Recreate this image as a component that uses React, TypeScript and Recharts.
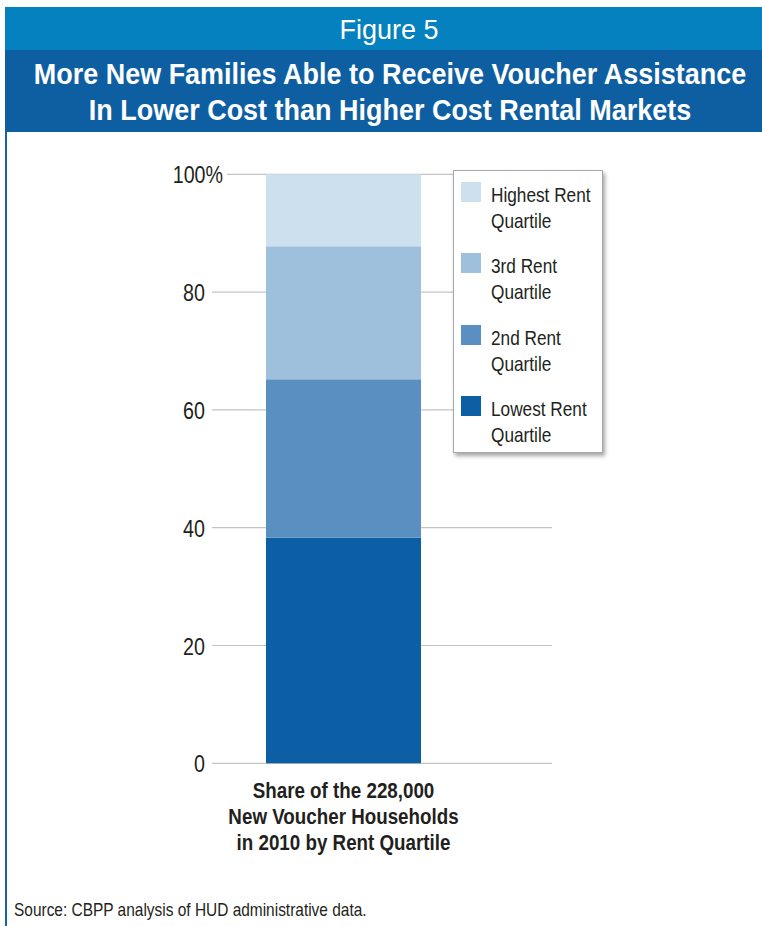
import React from 'react';
import { BarChart, Bar, XAxis, YAxis, CartesianGrid, Legend } from 'recharts';

// one stacked column, shares in percent
const categories = ['Share of the 228,000|New Voucher Households|in 2010 by Rent Quartile'];
const lowestRent = [38.3];
const secondRent = [26.9];
const thirdRent = [22.6];
const highestRent = [12.2];
const yTicks = [0, 20, 40, 60, 80, 100];

const seriesKeys = ['lowest', 'second', 'third', 'highest'];
const seriesNames = ['Lowest Rent|Quartile', '2nd Rent|Quartile', '3rd Rent|Quartile', 'Highest Rent|Quartile'];
const seriesColors = ['#0d5fa5', '#5990c1', '#9ec0dd', '#cde0ee'];

// no condensed face installed, so Liberation Sans gets squeezed horizontally
const SANS = '"Liberation Sans", Arial, sans-serif';

const data = categories.map((name, i) => ({
  name,
  lowest: lowestRent[i],
  second: secondRent[i],
  third: thirdRent[i],
  highest: highestRent[i],
}));

const YTick = (props: any) => {
  const { x, y, payload } = props;
  const top = payload.value === 100;
  return (
    <g>
      {top && <rect x={x + 7} y={y - 2} width={15} height={4} fill="#fff" />}
      <text
        transform={`translate(${top ? x + 18 : x},${y + 9}) scale(0.82,1)`}
        textAnchor="end"
        fontFamily={SANS}
        fontSize={24}
        fill="#231f20"
      >
        {top ? '100%' : payload.value}
      </text>
    </g>
  );
};

const XTick = (props: any) => {
  const { x, y, payload } = props;
  const lines = String(payload.value).split('|');
  return (
    <text
      transform={`translate(${x},${y}) scale(0.835,1)`}
      textAnchor="middle"
      fontFamily={SANS}
      fontWeight="bold"
      fontSize={22.5}
      fill="#231f20"
    >
      {lines.map((l, i) => (
        <tspan key={i} x={0} dy={i === 0 ? 35 : 26}>{l}</tspan>
      ))}
    </text>
  );
};

const squeeze = (s: number, origin = 'left center'): React.CSSProperties => ({
  display: 'inline-block',
  whiteSpace: 'nowrap',
  transform: `scaleX(${s})`,
  transformOrigin: origin,
});

const LegendBox = () => (
  <div
    style={{
      width: 150,
      height: 283,
      boxSizing: 'border-box',
      border: '1px solid #a8a8a8',
      background: '#fff',
      boxShadow: '2px 3px 4px rgba(0,0,0,0.35)',
      padding: '11px 0 0 7px',
      fontFamily: SANS,
      fontSize: 21,
      color: '#231f20',
    }}
  >
    {[3, 2, 1, 0].map((i) => {
      const [a, b] = seriesNames[i].split('|');
      return (
        <div key={i} style={{ display: 'flex', alignItems: 'flex-start', height: 71.4 }}>
          <div style={{ width: 20, height: 20, background: seriesColors[i], flex: 'none' }} />
          <div style={{ marginLeft: 10, lineHeight: '26px', whiteSpace: 'nowrap' }}>
            <span style={squeeze(0.82)}>{a}</span>
            <br />
            <span style={squeeze(0.82)}>{b}</span>
          </div>
        </div>
      );
    })}
  </div>
);

export default function App() {
  return (
    <div style={{ position: 'absolute', left: 0, top: 0, width: 762, height: 926, background: '#fff', overflow: 'hidden' }}>
      <div style={{ position: 'absolute', left: 0, top: 0 }}>
        <BarChart width={762} height={926} data={data} margin={{ top: 174.3, right: 210, bottom: 62.7, left: 0 }}>
          <CartesianGrid vertical={false} stroke="#c4c4c4" strokeWidth={1.2} />
          <XAxis
            dataKey="name"
            tick={<XTick />}
            tickLine={false}
            axisLine={false}
            tickSize={0}
            tickMargin={0}
            height={100}
            padding={{ left: 0, right: 77 }}
            interval={0}
          />
          <YAxis
            domain={[0, 100]}
            ticks={yTicks}
            tick={<YTick />}
            tickLine={false}
            axisLine={false}
            tickSize={0}
            tickMargin={7}
            width={212}
          />
          <Legend
            layout="vertical"
            align="center"
            verticalAlign="middle"
            content={<LegendBox />}
            wrapperStyle={{ left: 453, top: 170, width: 150 }}
          />
          {seriesKeys.map((k, i) => (
            <Bar key={k} dataKey={k} name={seriesNames[i]} stackId="a" fill={seriesColors[i]} barSize={155} isAnimationActive={false} />
          ))}
        </BarChart>
      </div>

      {/* header bands */}
      <div
        style={{
          position: 'absolute',
          left: 5,
          top: 7,
          width: 757,
          height: 43,
          background: '#0581c0',
          color: '#fff',
          fontFamily: SANS,
          fontSize: 27,
          lineHeight: '43px',
          boxSizing: 'border-box',
          paddingTop: 2,
          paddingLeft: 11,
          textAlign: 'center',
        }}
      >
        Figure 5
      </div>
      <div style={{ position: 'absolute', left: 5, top: 50, width: 757, height: 82, background: '#0e5ea2' }} />
      <div
        style={{
          position: 'absolute',
          left: 389.5,
          top: 56,
          transform: 'translateX(-50%) scaleX(0.93)',
          transformOrigin: 'center',
          color: '#fff',
          fontFamily: SANS,
          fontWeight: 'bold',
          fontSize: 29,
          lineHeight: '36px',
          whiteSpace: 'nowrap',
          textAlign: 'center',
        }}
      >
        More New Families Able to Receive Voucher Assistance
        <br />
        In Lower Cost than Higher Cost Rental Markets
      </div>
      <div style={{ position: 'absolute', left: 5, top: 132, width: 2, height: 794, background: '#1662a8' }} />

      <div
        style={{
          position: 'absolute',
          left: 14,
          top: 900,
          fontFamily: SANS,
          fontSize: 18.5,
          lineHeight: '20px',
          color: '#231f20',
          whiteSpace: 'nowrap',
        }}
      >
        <span style={squeeze(0.835)}>Source: CBPP analysis of HUD administrative data.</span>
      </div>
    </div>
  );
}
